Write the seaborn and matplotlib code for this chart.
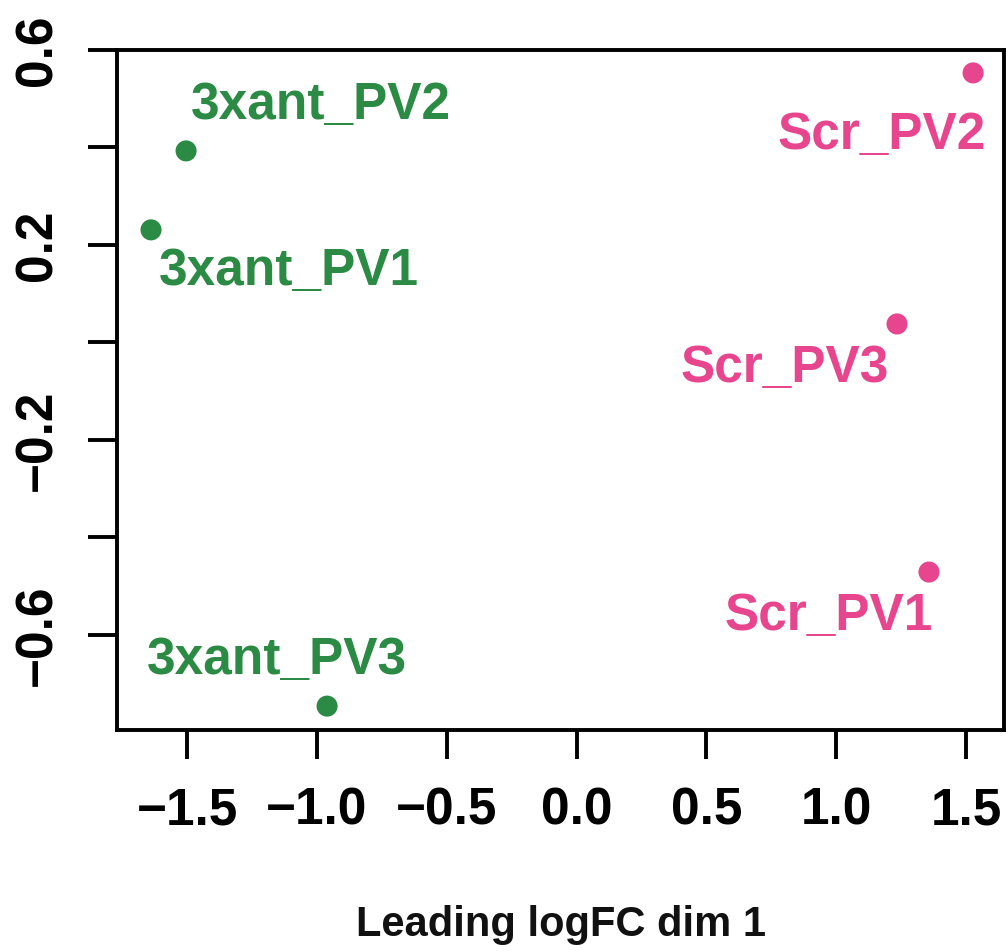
import matplotlib
matplotlib.use("Agg")
import matplotlib.pyplot as plt
import numpy as np
import pandas as pd
import seaborn as sns

# MDS coordinates
samples = ["3xant_PV1", "3xant_PV2", "3xant_PV3", "Scr_PV1", "Scr_PV2", "Scr_PV3"]
groups = ["3xant", "3xant", "3xant", "Scr", "Scr", "Scr"]
dim1 = [-1.639, -1.504, -0.961, 1.357, 1.527, 1.234]
dim2 = [0.231, 0.393, -0.746, -0.471, 0.553, 0.038]

x_ticks = [-1.5, -1.0, -0.5, 0.0, 0.5, 1.0, 1.5]
y_ticks = [-0.6, -0.4, -0.2, 0.0, 0.2, 0.4, 0.6]
y_tick_labels = ["\u22120.6", "", "\u22120.2", "", "0.2", "", "0.6"]

colours = {"3xant": "#2b8a43", "Scr": "#e8458f"}

# label offsets (points) for each sample
offsets = {
    "3xant_PV1": (99, -30),
    "3xant_PV2": (97, 33),
    "3xant_PV3": (-36, 33),
    "Scr_PV1": (-72, -32),
    "Scr_PV2": (-66, -45),
    "Scr_PV3": (-81, -32),
}

df = pd.DataFrame({"sample": samples, "group": groups, "dim1": dim1, "dim2": dim2})

sns.set_theme(style="white")
plt.rcParams["font.family"] = ["Liberation Sans", "DejaVu Sans"]
plt.rcParams["font.weight"] = "bold"

fig = plt.figure(figsize=(10.08, 9.51), dpi=100)
ax = fig.add_axes([117 / 1008, 1 - 730 / 951, 887 / 1008, 680 / 951])

sns.scatterplot(data=df, x="dim1", y="dim2", hue="group", palette=colours,
                s=230, edgecolor="none", legend=False, ax=ax)

for _, row in df.iterrows():
    ax.annotate(row["sample"], (row["dim1"], row["dim2"]),
                xytext=offsets[row["sample"]], textcoords="offset points",
                ha="center", va="center", fontsize=37, fontweight="bold",
                color=colours[row["group"]])

ax.set_xlim(-1.770, 1.646)
ax.set_ylim(-0.795, 0.6)
ax.set_xticks(x_ticks)
ax.set_xticklabels([f"{v:.1f}".replace("-", "\u2212") for v in x_ticks])
ax.set_yticks(y_ticks)
ax.set_yticklabels(y_tick_labels)
for lab in ax.get_yticklabels():
    lab.set_rotation(90)
    lab.set_va("center")

ax.tick_params(axis="both", length=21, width=2.8, color="black",
               labelsize=37, labelcolor="black", direction="out")
ax.tick_params(axis="x", pad=20)
ax.tick_params(axis="y", pad=18)
ax.tick_params(bottom=True, left=True)

for sp in ax.spines.values():
    sp.set_visible(True)
    sp.set_color("black")
    sp.set_linewidth(2.8)

ax.set_xlabel("Leading logFC dim 1", fontsize=30, fontweight="bold",
              labelpad=50, color="#111111")
ax.set_ylabel("")

fig.savefig("out.png", dpi=100)
